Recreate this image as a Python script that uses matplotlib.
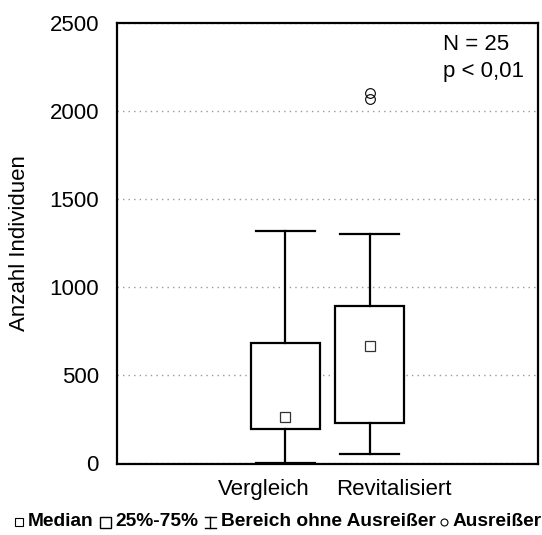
import matplotlib
matplotlib.use("Agg")
import matplotlib.pyplot as plt
from matplotlib.patches import Rectangle
from matplotlib.lines import Line2D
import matplotlib.transforms as mtransforms

plt.rcParams['font.family'] = ['Liberation Sans', 'DejaVu Sans']

categories = ["Vergleich", "Revitalisiert"]
whislo = [0, 50]
q1 = [192, 226]
med = [260, 664]
q3 = [681, 892]
whishi = [1316, 1302]
outliers = [[], [2102, 2066]]
yticks = [0, 500, 1000, 1500, 2000, 2500]
annot = ["N = 25", "p < 0,01"]
legend_labels = ["Median", "25%-75%", "Bereich ohne Ausreißer", "Ausreißer"]

W, H = 542, 535
fig = plt.figure(figsize=(W / 100, H / 100), dpi=100)
ax = fig.add_axes([117 / W, 1 - 464 / H, 421 / W, 441 / H])

positions = [1, 2]
stats = []
for i, c in enumerate(categories):
    stats.append(dict(label=c, whislo=whislo[i], q1=q1[i], med=med[i],
                      q3=q3[i], whishi=whishi[i], fliers=outliers[i]))

lw = 1.6
ax.bxp(stats, positions=positions, widths=0.81, capwidths=0.71,
       patch_artist=True, showfliers=True,
       boxprops=dict(facecolor='white', edgecolor='black', linewidth=lw),
       whiskerprops=dict(color='black', linewidth=lw),
       capprops=dict(color='black', linewidth=lw),
       medianprops=dict(linewidth=0),
       flierprops=dict(marker='o', markerfacecolor='none', markeredgecolor='black',
                       markersize=7, markeredgewidth=0.8),
       zorder=3)
ax.plot(positions, med, linestyle='none', marker='s', markersize=6.5,
        markerfacecolor='white', markeredgecolor='#333333', markeredgewidth=0.9, zorder=5)

ax.set_xlim(-1, 4.0)
ax.set_ylim(-8, 2500)
ax.set_yticks(yticks)
ax.set_yticklabels([str(t) for t in yticks], fontsize=16)
ax.tick_params(axis='y', length=0, pad=13)
ax.set_xticks([])
ax.yaxis.grid(True, linestyle=(0, (1, 3)), color='#999999', linewidth=1.0)
ax.set_axisbelow(True)
for s in ax.spines.values():
    s.set_linewidth(1.6)
    s.set_color('black')

ax.set_ylabel("Anzahl Individuen", fontsize=16)
ax.yaxis.set_label_coords(-0.232, 0.5)
ax.yaxis.label.set_va('center')

# category labels (shifted apart as in the reference)
offsets = [-22, 24]
for p, c, dx in zip(positions, categories, offsets):
    tr = mtransforms.blended_transform_factory(ax.transData, ax.transAxes) + \
        mtransforms.ScaledTranslation(dx / 100, -31 / 100, fig.dpi_scale_trans)
    ax.text(p, 0, c, transform=tr, ha='center', va='baseline', fontsize=16)

ax.text((443 - 117) / 421, (464 - 50) / 441, annot[0], transform=ax.transAxes,
        fontsize=16, ha='left', va='baseline')
ax.text((443 - 117) / 421, (464 - 77) / 441, annot[1], transform=ax.transAxes,
        fontsize=16, ha='left', va='baseline')

# legend row at bottom (pixel coordinates from top-left)
def fx(x):
    return x / W

def fy(y):
    return 1 - y / H

yc = 522
x_start, x_end = 15, 540
sym_w = [8, 11, 11, 6]
gap_st = 5   # symbol -> text
gap_ts = 6   # text -> next symbol

base_fs = 12.0
texts = [fig.text(0, fy(yc), lab, fontsize=base_fs, fontweight='bold', ha='left', va='center')
         for lab in legend_labels]
renderer = fig.canvas.get_renderer()
tw0 = sum(t.get_window_extent(renderer).width for t in texts)
avail = (x_end - x_start) - sum(sym_w) - 4 * gap_st - 3 * gap_ts
lfs = base_fs * avail / tw0
for t in texts:
    t.set_fontsize(lfs)
tw = [t.get_window_extent(renderer).width for t in texts]

x = x_start
sym_x = []
for i in range(4):
    sym_x.append(x)
    x += sym_w[i] + gap_st
    texts[i].set_x(fx(x))
    x += tw[i] + gap_ts

# symbol 1: median square
fig.add_artist(Line2D([fx(sym_x[0] + 4)], [fy(yc)], marker='s', markersize=6,
                      markerfacecolor='white', markeredgecolor='black', markeredgewidth=0.8,
                      transform=fig.transFigure))
# symbol 2: box
fig.add_artist(Rectangle((fx(sym_x[1]), fy(yc + 5.5)), 11 / W, 11 / H, facecolor='white',
                         edgecolor='black', linewidth=1.0, transform=fig.transFigure))
# symbol 3: whisker glyph
xm = sym_x[2] + 5.5
fig.add_artist(Line2D([fx(xm), fx(xm)], [fy(yc - 5.5), fy(yc + 5.5)], color='black',
                      linewidth=1.0, transform=fig.transFigure))
for yy in (yc - 5.5, yc + 5.5):
    fig.add_artist(Line2D([fx(sym_x[2]), fx(sym_x[2] + 11)], [fy(yy), fy(yy)], color='black',
                          linewidth=1.0, transform=fig.transFigure))
# symbol 4: outlier circle
fig.add_artist(Line2D([fx(sym_x[3] + 3)], [fy(yc)], marker='o', markersize=5,
                      markerfacecolor='white', markeredgecolor='black', markeredgewidth=0.8,
                      transform=fig.transFigure))

fig.savefig("out.png", dpi=100, facecolor='white')
